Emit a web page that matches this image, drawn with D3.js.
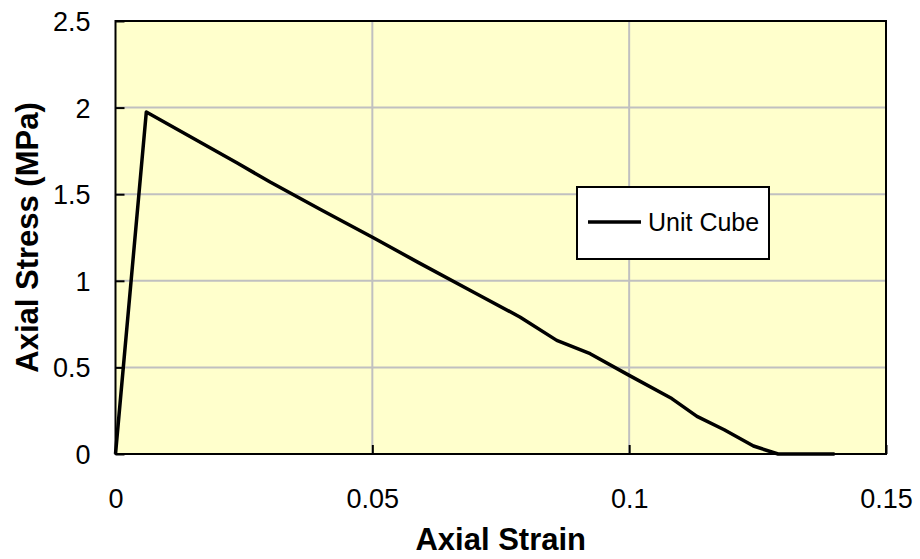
<!DOCTYPE html>
<html>
<head>
<meta charset="utf-8">
<script src="https://cdn.jsdelivr.net/npm/d3@7"></script>
<style>
  body { margin: 0; background: #fff; }
  text { font-family: "Liberation Sans", Arial, sans-serif; fill: #000; }
</style>
</head>
<body>
<div id="chart"></div>
<script>
// strain / stress
var strain = [0, 0.006, 0.0237, 0.0301, 0.040, 0.0502, 0.059, 0.070, 0.0788, 0.0859, 0.0924, 0.100, 0.1083, 0.1132, 0.1185, 0.1242, 0.129, 0.140];
var stress = [0, 1.975, 1.68, 1.57, 1.41, 1.249, 1.105, 0.93, 0.79, 0.656, 0.579, 0.454, 0.32, 0.2175, 0.14, 0.046, 0, 0];
var xTicks = [0, 0.05, 0.1, 0.15];
var yTicks = [0, 0.5, 1, 1.5, 2, 2.5];
var seriesName = "Unit Cube";

var W = 920, H = 559;
var margin = {top: 21, right: 34, bottom: 105, left: 115.5};
var width = W - margin.left - margin.right,
    height = H - margin.top - margin.bottom;

var svg = d3.select("#chart").append("svg")
    .attr("width", W)
    .attr("height", H);

var g = svg.append("g")
    .attr("transform", "translate(" + margin.left + "," + margin.top + ")");

var x = d3.scaleLinear().domain([0, 0.15]).range([0, width]);
var y = d3.scaleLinear().domain([0, 2.5]).range([height, 0]);

// plot background
g.append("rect")
    .attr("width", width)
    .attr("height", height)
    .attr("fill", "#ffffcc");

// grid
g.selectAll(".hgrid")
    .data(yTicks.slice(1, -1))
    .enter().append("line")
    .attr("x1", 0).attr("x2", width)
    .attr("y1", function (d) { return y(d); })
    .attr("y2", function (d) { return y(d); })
    .attr("stroke", "#c0c0c0").attr("stroke-width", 2);

g.selectAll(".vgrid")
    .data(xTicks.slice(1, -1))
    .enter().append("line")
    .attr("y1", 0).attr("y2", height)
    .attr("x1", function (d) { return x(d); })
    .attr("x2", function (d) { return x(d); })
    .attr("stroke", "#c0c0c0").attr("stroke-width", 2);

// axes: inward ticks, labels placed by hand afterwards
var xAxis = g.append("g")
    .attr("transform", "translate(0," + height + ")")
    .call(d3.axisBottom(x).tickValues(xTicks).tickSize(-9).tickFormat(d3.format("")));
var yAxis = g.append("g")
    .call(d3.axisLeft(y).tickValues(yTicks).tickSize(-9).tickFormat(d3.format("")));

[xAxis, yAxis].forEach(function (ax) {
  ax.select(".domain").remove();
  ax.selectAll(".tick line").attr("stroke", "#000").attr("stroke-width", 2);
  ax.selectAll(".tick text")
      .style("font-family", "'Liberation Sans', Arial, sans-serif")
      .style("font-size", "27px")
      .attr("fill", "#000");
});
xAxis.selectAll(".tick text").attr("y", 35).attr("dy", "0.71em");
yAxis.selectAll(".tick text").attr("x", -25).attr("dy", "0.35em");

// frame
g.append("rect")
    .attr("width", width)
    .attr("height", height)
    .attr("fill", "none")
    .attr("stroke", "#000")
    .attr("stroke-width", 2);

// curve
var line = d3.line()
    .x(function (d, i) { return x(strain[i]); })
    .y(function (d, i) { return y(stress[i]); });

g.append("path")
    .datum(stress)
    .attr("fill", "none")
    .attr("stroke", "#000")
    .attr("stroke-width", 3.5)
    .attr("stroke-linejoin", "round")
    .attr("d", line);

// legend
var leg = svg.append("g").attr("transform", "translate(577,187)");
leg.append("rect")
    .attr("width", 192).attr("height", 72)
    .attr("fill", "#fff").attr("stroke", "#000").attr("stroke-width", 2);
leg.append("line")
    .attr("x1", 11).attr("x2", 64).attr("y1", 35).attr("y2", 35)
    .attr("stroke", "#000").attr("stroke-width", 3.5);
leg.append("text")
    .attr("x", 71).attr("y", 44)
    .style("font-size", "25px")
    .text(seriesName);

// axis titles
svg.append("text")
    .attr("x", margin.left + width / 2)
    .attr("y", 550)
    .attr("text-anchor", "middle")
    .style("font-size", "31px").style("font-weight", "bold")
    .text("Axial Strain");

svg.append("text")
    .attr("transform", "translate(38," + (margin.top + height / 2) + ") rotate(-90)")
    .attr("text-anchor", "middle")
    .style("font-size", "31px").style("font-weight", "bold")
    .text("Axial Stress (MPa)");
</script>
</body>
</html>
